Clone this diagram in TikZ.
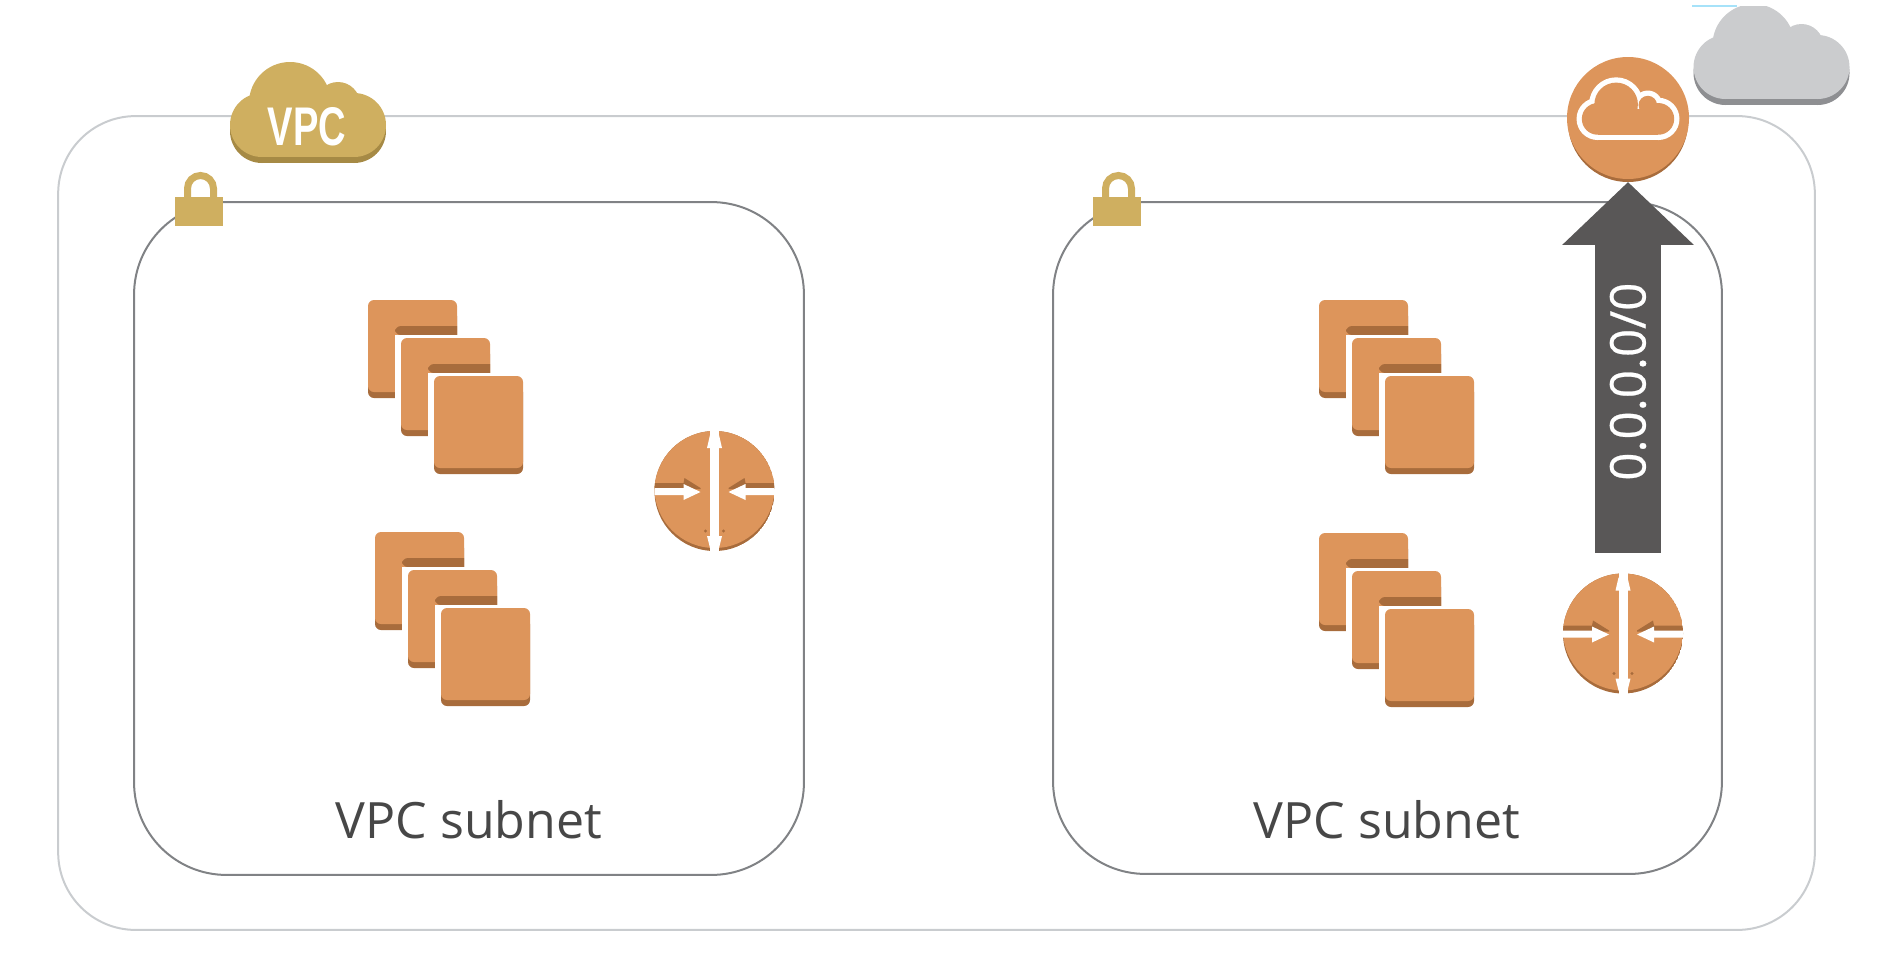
\documentclass[tikz,border=0pt]{standalone}
\usepackage{fontspec}
\setmainfont{Open Sans}
\newfontfamily\vpcfont[FakeStretch=0.7]{Liberation Sans}
\newfontfamily\routefont[FakeBold=0.5]{Open Sans}
\usetikzlibrary{arrows.meta}
\definecolor{awsOrange}{HTML}{DD955B}
\definecolor{awsShade}{HTML}{A86C3C}
\definecolor{awsGold}{HTML}{CFAF60}
\definecolor{awsGoldDark}{HTML}{A68A45}
\definecolor{awsGrey}{HTML}{CBCCCE}
\definecolor{awsGreyDark}{HTML}{8E8F92}
\definecolor{awsArrow}{HTML}{595757}
\definecolor{vpcLine}{HTML}{C9CCCF}
\definecolor{subnetLine}{HTML}{808285}

\tikzset{
  vpcbox/.style={draw=vpcLine, line width=0.04cm, rounded corners=1.55cm, inner sep=0, outer sep=0},
  subnetbox/.style={draw=subnetLine, line width=0.04cm, rounded corners=1.85cm, inner sep=0, outer sep=0},
  subnetlabel/.style={text=black!72, font=\fontsize{28.5}{30}\selectfont, inner sep=0},
  hub/.style={circle, minimum size=2.4cm, inner sep=0, outer sep=0},
  route/.style={awsArrow, line width=1.32cm, shorten <=0.42cm, -{Triangle[length=1.26cm, width=2.56cm]}},
  routelabel/.style={text=white, rotate=90, font=\routefont\fontsize{28}{30}\selectfont, inner sep=0}
}

% #1 colour, #2 inset
\newcommand{\cloudblob}[2]{
  \fill[#1] (-18,-7) circle (41-#2) (30,-6) circle (22-#2) (-46,15) circle (32-#2) (46,15) circle (32-#2);
  \fill[#1] (-46,0) rectangle (46,47-#2);
}
\newcommand{\padlock}[2]{
  \begin{scope}[shift={(#1,#2)}]
    \draw[awsGold, line width=0.14cm] (12.5,2) -- (12.5,-8.5) arc (180:360:13) -- (38.5,2);
    \fill[awsGold] (0,0) rectangle (48,29);
  \end{scope}
}
\newcommand{\instances}[2]{
  \begin{scope}[shift={(#1,#2)}]
    \foreach \i in {0,1,2} {
      \begin{scope}[shift={(33*\i,38*\i)}]
        \ifnum\i>0
          \fill[awsShade] (56,-12) [rounded corners=0.12cm] -- (-6,-12) -- (-6,-3) [sharp corners] -- (56,-3) -- cycle;
          \fill[white] (-6,-3) rectangle (58,100);
        \fi
        \fill[awsShade, rounded corners=0.12cm] (0,10) rectangle (89,98);
        \fill[awsOrange, rounded corners=0.12cm] (0,0) rectangle (89,92);
      \end{scope}
    }
  \end{scope}
}
% #1 name, #2 x, #3 y
\newcommand{\router}[3]{
  \node[hub] (#1) at (#2,#3) {};
  \begin{scope}[shift={(#2,#3)}]
    \begin{scope}
      \clip (0,0) circle (60);
      \fill[awsShade] (0,0) circle (60);
      \fill[awsOrange] (0,-3) circle (60);
      \foreach \s in {-1,1} {
        \fill[awsShade] (\s*62,-8) -- (\s*31,-8) -- (\s*30,-13) -- (\s*14,-3) -- (\s*14,-2) -- (\s*62,-2) -- cycle;
        \fill[white] (\s*62,-3) -- (\s*31,-3) -- (\s*31,-7) -- (\s*14,1) -- (\s*31,9) -- (\s*31,4) -- (\s*62,4) -- cycle;
        \fill[awsShade] (\s*9,40) circle (1.6);
      }
    \end{scope}
    \fill[white] (-4.5,-62) rectangle (4.5,62);
    \fill[white] (-7.5,-43) -- (-4.5,-56) -- (4.5,-56) -- (7.5,-43) -- cycle;
    \fill[white] (-7.5,45) -- (-4.5,57) -- (4.5,57) -- (7.5,45) -- cycle;
  \end{scope}
}

\begin{document}
\begin{tikzpicture}[x=0.02cm, y=-0.02cm]
\useasboundingbox (0,0) rectangle (1896,960);

\node[vpcbox, minimum width=35.14cm, minimum height=16.28cm] (vpc) at (936.5,523) {};
\node[subnetbox, minimum width=13.4cm, minimum height=13.46cm] (subnetA) at (469,538.5) {};
\node[subnetbox, minimum width=13.38cm, minimum height=13.44cm] (subnetB) at (1387.5,538) {};
\node[subnetlabel] (labelA) at (469,820) {VPC subnet};
\node[subnetlabel] (labelB) at (1387,820) {VPC subnet};

% vpc badge
\begin{scope}[shift={(308,110)}]
  \begin{scope}[shift={(0,6)}]\cloudblob{awsGoldDark}{0}\end{scope}
  \cloudblob{awsGold}{0}
\end{scope}
\node[text=white, font=\vpcfont\bfseries\fontsize{31}{33}\selectfont, inner sep=0] (vpcName) at (307,127) {VPC};

\padlock{175}{197}
\padlock{1093}{197}

% outside cloud
\begin{scope}
  \clip (1680,6) rectangle (1860,110);
  \begin{scope}[shift={(1771.5,52)}]
    \begin{scope}[shift={(0,6)}]\cloudblob{awsGreyDark}{0}\end{scope}
    \cloudblob{awsGrey}{0}
  \end{scope}
\end{scope}
\draw[cyan!35, line width=0.03cm] (1692,6) -- (1737,6);

\instances{368}{300}
\instances{375}{532}
\instances{1319}{300}
\instances{1319}{533}

\router{rtrA}{714.5}{491}
\router{rtrB}{1623}{633.5}

% internet gateway
\node[hub] (igw) at (1628,122) {};
\fill[awsShade] (igw.center) circle (60);
\fill[awsOrange] (1628,118) circle (61);
\begin{scope}[shift={(1628,109)}, scale=0.66]
  \cloudblob{white}{0}
  \cloudblob{awsOrange}{8}
\end{scope}

\draw[route] (igw.south |- rtrB.north) -- (igw.south) node[routelabel, pos=0.49] (routeText) {0.0.0.0/0};

\end{tikzpicture}
\end{document}
